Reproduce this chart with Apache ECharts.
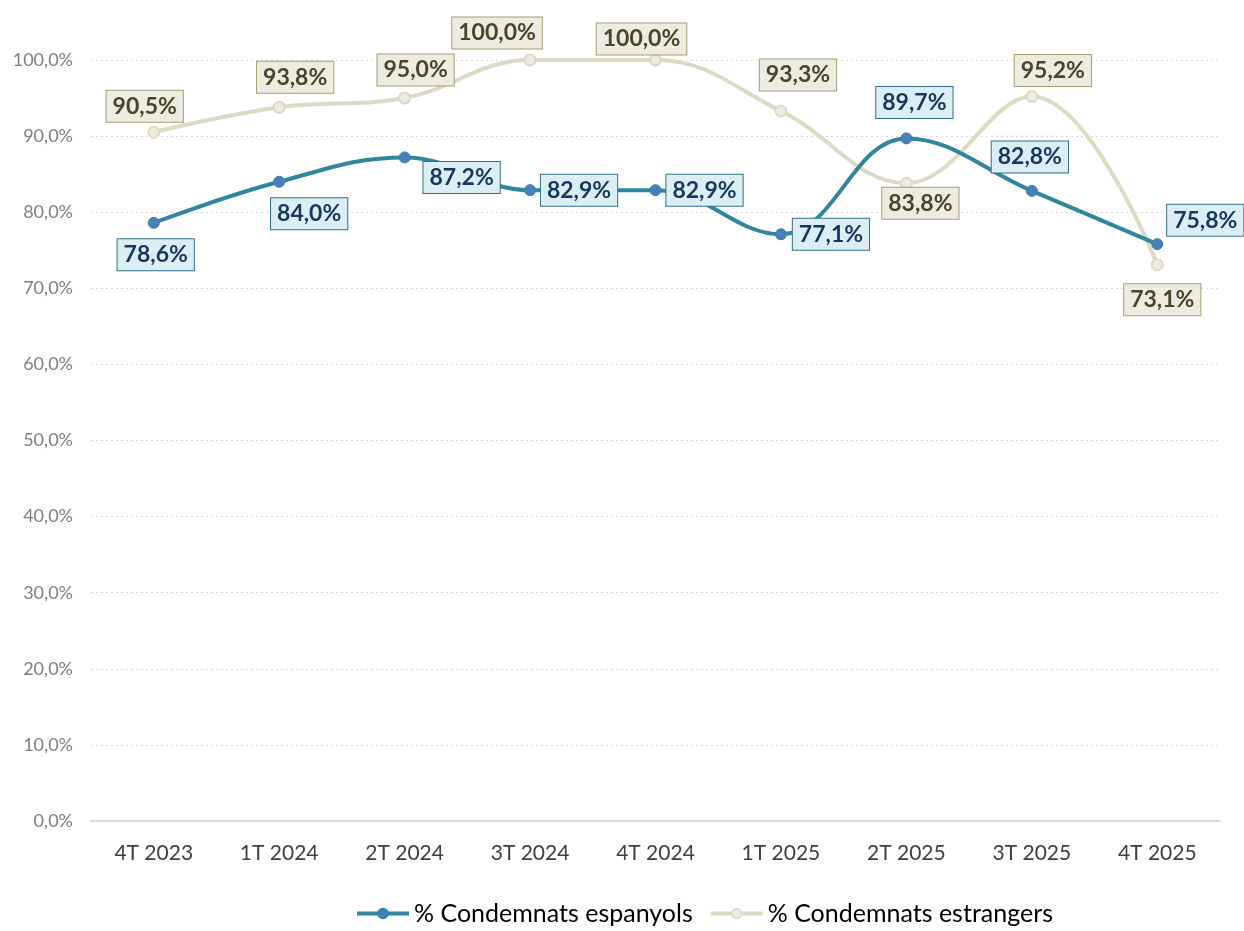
<!DOCTYPE html>
<html>
<head>
<meta charset="utf-8">
<script src="https://cdn.jsdelivr.net/npm/echarts@6/dist/echarts.min.js"></script>
<style>
  html, body { margin: 0; padding: 0; background: #fff; }
  #chart { width: 1244px; height: 931px; }
</style>
</head>
<body>
<div id="chart"></div>
<script>
const categories = ['4T 2023', '1T 2024', '2T 2024', '3T 2024', '4T 2024', '1T 2025', '2T 2025', '3T 2025', '4T 2025'];
const espanyols = [78.6, 84.0, 87.2, 82.9, 82.9, 77.1, 89.7, 82.8, 75.8];
const estrangers = [90.5, 93.8, 95.0, 100.0, 100.0, 93.3, 83.8, 95.2, 73.1];
const seriesNames = ['% Condemnats espanyols', '% Condemnats estrangers'];

// label offsets (px from the point centre), placed by hand like in the original
const espOffsets = [[2, 32], [30, 32], [57, 20], [49, 0], [49, 0], [50, 0], [8, -36], [-2, -34], [48, -24]];
const estOffsets = [[-9, -26], [16, -30], [11, -28], [-33, -27], [-14, -21], [17, -36], [14, 20], [21, -26], [5, 35]];

const fmt = (v) => v.toFixed(1).replace('.', ',') + '%';
const FONT = 'Lato, "Open Sans", sans-serif';

const withLabels = (values, offsets) =>
  values.map((v, i) => ({ value: v, label: { offset: offsets[i] } }));

const labelStyle = (bg, border, color) => ({
  show: true,
  position: 'inside',
  formatter: (p) => fmt(p.value),
  fontFamily: FONT,
  fontSize: 23,
  fontWeight: 'bold',
  color: color,
  backgroundColor: bg,
  borderColor: border,
  borderWidth: 1,
  padding: [5, 6, 3, 6],
});

const chart = echarts.init(document.getElementById('chart'));

chart.setOption({
  animation: false,
  textStyle: { fontFamily: FONT },
  grid: { left: 91, right: 24, top: 60, bottom: 110 },
  legend: {
    bottom: 0,
    left: 350,
    itemWidth: 52,
    itemHeight: 12,
    itemGap: 16,
    lineStyle: { width: 4 },
    textStyle: { fontSize: 25, color: '#000', fontFamily: FONT },
    data: seriesNames,
  },
  xAxis: {
    type: 'category',
    data: categories,
    axisLine: { lineStyle: { color: '#D9D9D9', width: 2 } },
    axisTick: { show: false },
    axisLabel: { color: '#404040', fontSize: 21, margin: 22 },
  },
  yAxis: {
    type: 'value',
    min: 0,
    max: 100,
    interval: 10,
    axisLine: { show: false },
    axisTick: { show: false },
    axisLabel: { color: '#7F7F7F', fontSize: 18, margin: 18, formatter: (v) => fmt(v) },
    splitLine: { lineStyle: { color: '#D9D9D9', type: [2, 3], width: 1 } },
  },
  series: [
    {
      name: seriesNames[0],
      type: 'line',
      smooth: 0.4,
      z: 3,
      data: withLabels(espanyols, espOffsets),
      symbol: 'circle',
      symbolSize: 11,
      lineStyle: { color: '#31859C', width: 4 },
      itemStyle: { color: '#4A7EBB', borderColor: '#31859C', borderWidth: 1 },
      label: labelStyle('#DAEEF3', '#31708A', '#17375E'),
    },
    {
      name: seriesNames[1],
      type: 'line',
      smooth: 0.4,
      z: 2,
      data: withLabels(estrangers, estOffsets),
      symbol: 'circle',
      symbolSize: 11,
      lineStyle: { color: '#DDD9C3', width: 4 },
      itemStyle: { color: '#EEECE1', borderColor: '#DDD9C3', borderWidth: 2 },
      label: labelStyle('#EEECE1', '#A69F72', '#4A452A'),
    },
  ],
});
</script>
</body>
</html>
